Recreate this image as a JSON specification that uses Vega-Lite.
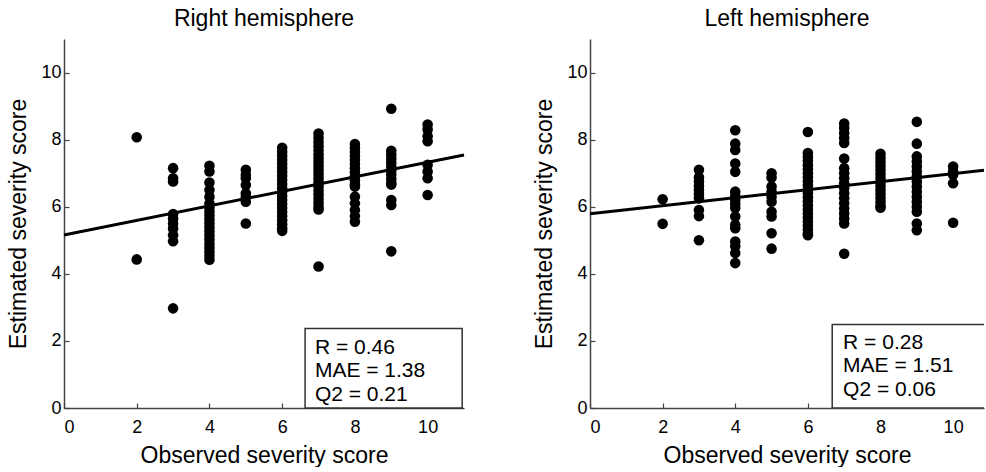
{
"$schema": "https://vega.github.io/schema/vega-lite/v6.json",
"padding": {"left": 7, "top": 8, "right": 0, "bottom": 0},
"background": "white",
"config": {
  "view": {"stroke": null},
  "font": "Liberation Sans",
  "axis": {"grid": false, "domainColor": "#444", "domainWidth": 1.5, "tickColor": "#444", "tickWidth": 1.2, "tickSize": -5, "labelFontSize": 18, "labelColor": "black", "titleFontSize": 23, "titleFontWeight": "normal", "titleColor": "black", "zindex": 1},
  "title": {"fontSize": 23, "fontWeight": "normal", "color": "black", "offset": 8}
},
"datasets": {
  "right_pts": [
    {"observed":2,"estimated":8.07},{"observed":2,"estimated":4.43},
    {"observed":3,"estimated":7.15},{"observed":3,"estimated":6.85},{"observed":3,"estimated":6.75},{"observed":3,"estimated":5.78},{"observed":3,"estimated":5.65},{"observed":3,"estimated":5.5},{"observed":3,"estimated":5.35},{"observed":3,"estimated":5.15},{"observed":3,"estimated":4.97},{"observed":3,"estimated":2.97},
    {"observed":4,"estimated":7.22},{"observed":4,"estimated":7.05},{"observed":4,"estimated":6.72},{"observed":4,"estimated":6.5},{"observed":4,"estimated":6.3},{"observed":4,"estimated":6.1},{"observed":4,"estimated":5.98},{"observed":4,"estimated":5.86},{"observed":4,"estimated":5.74},{"observed":4,"estimated":5.62},{"observed":4,"estimated":5.5},{"observed":4,"estimated":5.38},{"observed":4,"estimated":5.26},{"observed":4,"estimated":5.14},{"observed":4,"estimated":5.02},{"observed":4,"estimated":4.9},{"observed":4,"estimated":4.78},{"observed":4,"estimated":4.66},{"observed":4,"estimated":4.54},{"observed":4,"estimated":4.42},
    {"observed":5,"estimated":7.1},{"observed":5,"estimated":6.95},{"observed":5,"estimated":6.85},{"observed":5,"estimated":6.65},{"observed":5,"estimated":6.4},{"observed":5,"estimated":6.3},{"observed":5,"estimated":6.15},{"observed":5,"estimated":5.5},
    {"observed":6,"estimated":7.76},{"observed":6,"estimated":7.64},{"observed":6,"estimated":7.52},{"observed":6,"estimated":7.4},{"observed":6,"estimated":7.28},{"observed":6,"estimated":7.16},{"observed":6,"estimated":7.04},{"observed":6,"estimated":6.92},{"observed":6,"estimated":6.8},{"observed":6,"estimated":6.68},{"observed":6,"estimated":6.56},{"observed":6,"estimated":6.44},{"observed":6,"estimated":6.32},{"observed":6,"estimated":6.2},{"observed":6,"estimated":6.08},{"observed":6,"estimated":5.96},{"observed":6,"estimated":5.84},{"observed":6,"estimated":5.72},{"observed":6,"estimated":5.6},{"observed":6,"estimated":5.48},{"observed":6,"estimated":5.36},{"observed":6,"estimated":5.28},
    {"observed":7,"estimated":8.18},{"observed":7,"estimated":8.05},{"observed":7,"estimated":7.92},{"observed":7,"estimated":7.8},{"observed":7,"estimated":7.68},{"observed":7,"estimated":7.56},{"observed":7,"estimated":7.44},{"observed":7,"estimated":7.32},{"observed":7,"estimated":7.2},{"observed":7,"estimated":7.08},{"observed":7,"estimated":6.96},{"observed":7,"estimated":6.84},{"observed":7,"estimated":6.72},{"observed":7,"estimated":6.6},{"observed":7,"estimated":6.48},{"observed":7,"estimated":6.36},{"observed":7,"estimated":6.24},{"observed":7,"estimated":6.12},{"observed":7,"estimated":6.0},{"observed":7,"estimated":5.92},{"observed":7,"estimated":4.22},
    {"observed":8,"estimated":7.87},{"observed":8,"estimated":7.75},{"observed":8,"estimated":7.63},{"observed":8,"estimated":7.51},{"observed":8,"estimated":7.39},{"observed":8,"estimated":7.27},{"observed":8,"estimated":7.15},{"observed":8,"estimated":7.03},{"observed":8,"estimated":6.91},{"observed":8,"estimated":6.79},{"observed":8,"estimated":6.67},{"observed":8,"estimated":6.6},{"observed":8,"estimated":6.3},{"observed":8,"estimated":6.1},{"observed":8,"estimated":5.9},{"observed":8,"estimated":5.72},{"observed":8,"estimated":5.55},
    {"observed":9,"estimated":8.92},{"observed":9,"estimated":7.67},{"observed":9,"estimated":7.55},{"observed":9,"estimated":7.43},{"observed":9,"estimated":7.31},{"observed":9,"estimated":7.19},{"observed":9,"estimated":7.07},{"observed":9,"estimated":6.95},{"observed":9,"estimated":6.83},{"observed":9,"estimated":6.71},{"observed":9,"estimated":6.66},{"observed":9,"estimated":6.2},{"observed":9,"estimated":6.05},{"observed":9,"estimated":4.67},
    {"observed":10,"estimated":8.45},{"observed":10,"estimated":8.3},{"observed":10,"estimated":8.1},{"observed":10,"estimated":7.95},{"observed":10,"estimated":7.25},{"observed":10,"estimated":7.05},{"observed":10,"estimated":6.85},{"observed":10,"estimated":6.35}
  ],
  "left_pts": [
    {"observed":2,"estimated":6.22},{"observed":2,"estimated":5.49},
    {"observed":3,"estimated":7.1},{"observed":3,"estimated":6.88},{"observed":3,"estimated":6.75},{"observed":3,"estimated":6.62},{"observed":3,"estimated":6.5},{"observed":3,"estimated":6.38},{"observed":3,"estimated":6.25},{"observed":3,"estimated":5.9},{"observed":3,"estimated":5.72},{"observed":3,"estimated":5.0},
    {"observed":4,"estimated":8.28},{"observed":4,"estimated":7.88},{"observed":4,"estimated":7.69},{"observed":4,"estimated":7.29},{"observed":4,"estimated":7.04},{"observed":4,"estimated":6.45},{"observed":4,"estimated":6.32},{"observed":4,"estimated":6.2},{"observed":4,"estimated":6.08},{"observed":4,"estimated":5.96},{"observed":4,"estimated":5.71},{"observed":4,"estimated":5.46},{"observed":4,"estimated":5.36},{"observed":4,"estimated":4.96},{"observed":4,"estimated":4.82},{"observed":4,"estimated":4.62},{"observed":4,"estimated":4.32},
    {"observed":5,"estimated":7.0},{"observed":5,"estimated":6.87},{"observed":5,"estimated":6.6},{"observed":5,"estimated":6.45},{"observed":5,"estimated":6.3},{"observed":5,"estimated":6.15},{"observed":5,"estimated":5.85},{"observed":5,"estimated":5.71},{"observed":5,"estimated":5.21},{"observed":5,"estimated":4.75},
    {"observed":6,"estimated":8.23},{"observed":6,"estimated":7.6},{"observed":6,"estimated":7.48},{"observed":6,"estimated":7.36},{"observed":6,"estimated":7.24},{"observed":6,"estimated":7.12},{"observed":6,"estimated":7.0},{"observed":6,"estimated":6.88},{"observed":6,"estimated":6.76},{"observed":6,"estimated":6.64},{"observed":6,"estimated":6.52},{"observed":6,"estimated":6.4},{"observed":6,"estimated":6.28},{"observed":6,"estimated":6.16},{"observed":6,"estimated":6.04},{"observed":6,"estimated":5.92},{"observed":6,"estimated":5.8},{"observed":6,"estimated":5.68},{"observed":6,"estimated":5.56},{"observed":6,"estimated":5.44},{"observed":6,"estimated":5.32},{"observed":6,"estimated":5.2},{"observed":6,"estimated":5.15},
    {"observed":7,"estimated":8.48},{"observed":7,"estimated":8.35},{"observed":7,"estimated":8.2},{"observed":7,"estimated":8.05},{"observed":7,"estimated":7.9},{"observed":7,"estimated":7.44},{"observed":7,"estimated":7.15},{"observed":7,"estimated":7.0},{"observed":7,"estimated":6.85},{"observed":7,"estimated":6.7},{"observed":7,"estimated":6.55},{"observed":7,"estimated":6.4},{"observed":7,"estimated":6.25},{"observed":7,"estimated":6.1},{"observed":7,"estimated":5.95},{"observed":7,"estimated":5.8},{"observed":7,"estimated":5.65},{"observed":7,"estimated":5.5},{"observed":7,"estimated":4.6},
    {"observed":8,"estimated":7.58},{"observed":8,"estimated":7.46},{"observed":8,"estimated":7.34},{"observed":8,"estimated":7.22},{"observed":8,"estimated":7.1},{"observed":8,"estimated":6.98},{"observed":8,"estimated":6.86},{"observed":8,"estimated":6.74},{"observed":8,"estimated":6.62},{"observed":8,"estimated":6.5},{"observed":8,"estimated":6.38},{"observed":8,"estimated":6.26},{"observed":8,"estimated":6.14},{"observed":8,"estimated":6.02},{"observed":8,"estimated":5.97},
    {"observed":9,"estimated":8.53},{"observed":9,"estimated":7.88},{"observed":9,"estimated":7.5},{"observed":9,"estimated":7.35},{"observed":9,"estimated":7.2},{"observed":9,"estimated":7.05},{"observed":9,"estimated":6.9},{"observed":9,"estimated":6.75},{"observed":9,"estimated":6.6},{"observed":9,"estimated":6.45},{"observed":9,"estimated":6.3},{"observed":9,"estimated":6.15},{"observed":9,"estimated":6.0},{"observed":9,"estimated":5.85},{"observed":9,"estimated":5.5},{"observed":9,"estimated":5.3},
    {"observed":10,"estimated":7.2},{"observed":10,"estimated":7.05},{"observed":10,"estimated":6.95},{"observed":10,"estimated":6.7},{"observed":10,"estimated":5.52}
  ],
  "right_line": [{"observed":0,"estimated":5.16},{"observed":11,"estimated":7.54}],
  "left_line": [{"observed":0,"estimated":5.79},{"observed":10.85,"estimated":7.09}],
  "right_box": [{"x1":6.63,"x2":10.95,"y1":0,"y2":2.37}],
  "left_box": [{"x1":6.67,"x2":11.2,"y1":0,"y2":2.49}],
  "right_text": [{"x":6.9,"y":1.6,"label":"R = 0.46"},{"x":6.9,"y":0.91,"label":"MAE = 1.38"},{"x":6.9,"y":0.22,"label":"Q2 = 0.21"}],
  "left_text": [{"x":6.97,"y":1.75,"label":"R = 0.28"},{"x":6.97,"y":1.06,"label":"MAE = 1.51"},{"x":6.97,"y":0.37,"label":"Q2 = 0.06"}]
},
"spacing": 63,
"hconcat": [
  {
    "width": 400, "height": 369,
    "title": {"text": "Right hemisphere"},
    "layer": [
      {"data": {"name": "right_pts"}, "mark": {"type": "circle", "size": 112, "color": "black", "opacity": 1},
       "encoding": {
         "x": {"field": "observed", "type": "quantitative", "scale": {"domain": [0, 11], "nice": false}, "axis": {"values": [0,2,4,6,8,10], "labelPadding": 15, "titlePadding": 8}, "title": "Observed severity score"},
         "y": {"field": "estimated", "type": "quantitative", "scale": {"domain": [0, 11], "nice": false}, "axis": {"values": [0,2,4,6,8,10], "labelPadding": 8, "titlePadding": 10}, "title": "Estimated severity score"}}},
      {"data": {"name": "right_line"}, "mark": {"type": "line", "color": "black", "strokeWidth": 3},
       "encoding": {"x": {"field": "observed", "type": "quantitative"}, "y": {"field": "estimated", "type": "quantitative"}}},
      {"data": {"name": "right_box"}, "mark": {"type": "rect", "fill": "white", "stroke": "#333", "strokeWidth": 1.5},
       "encoding": {"x": {"field": "x1", "type": "quantitative"}, "x2": {"field": "x2"}, "y": {"field": "y1", "type": "quantitative"}, "y2": {"field": "y2"}}},
      {"data": {"name": "right_text"}, "mark": {"type": "text", "align": "left", "baseline": "alphabetic", "fontSize": 21, "color": "black"},
       "encoding": {"x": {"field": "x", "type": "quantitative"}, "y": {"field": "y", "type": "quantitative"}, "text": {"field": "label"}}}
    ]
  },
  {
    "width": 394, "height": 369,
    "title": {"text": "Left hemisphere"},
    "layer": [
      {"data": {"name": "left_pts"}, "mark": {"type": "circle", "size": 112, "color": "black", "opacity": 1},
       "encoding": {
         "x": {"field": "observed", "type": "quantitative", "scale": {"domain": [0, 10.85], "nice": false}, "axis": {"values": [0,2,4,6,8,10], "labelPadding": 15, "titlePadding": 8}, "title": "Observed severity score"},
         "y": {"field": "estimated", "type": "quantitative", "scale": {"domain": [0, 11], "nice": false}, "axis": {"values": [0,2,4,6,8,10], "labelPadding": 8, "titlePadding": 10}, "title": "Estimated severity score"}}},
      {"data": {"name": "left_line"}, "mark": {"type": "line", "color": "black", "strokeWidth": 3},
       "encoding": {"x": {"field": "observed", "type": "quantitative"}, "y": {"field": "estimated", "type": "quantitative"}}},
      {"data": {"name": "left_box"}, "mark": {"type": "rect", "fill": "white", "stroke": "#333", "strokeWidth": 1.5, "clip": true},
       "encoding": {"x": {"field": "x1", "type": "quantitative"}, "x2": {"field": "x2"}, "y": {"field": "y1", "type": "quantitative"}, "y2": {"field": "y2"}}},
      {"data": {"name": "left_text"}, "mark": {"type": "text", "align": "left", "baseline": "alphabetic", "fontSize": 21, "color": "black"},
       "encoding": {"x": {"field": "x", "type": "quantitative"}, "y": {"field": "y", "type": "quantitative"}, "text": {"field": "label"}}}
    ]
  }
]
}
